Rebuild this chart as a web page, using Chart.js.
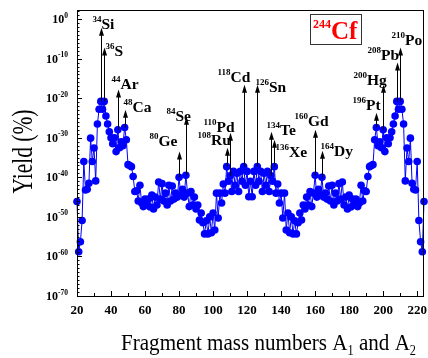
<!DOCTYPE html>
<html>
<head>
<meta charset="utf-8">
<script src="https://cdn.jsdelivr.net/npm/chart.js@4.4.1/dist/chart.umd.min.js"></script>
<style>
  html, body { margin: 0; padding: 0; background: #fff; }
  #wrap { width: 428px; height: 358px; }
</style>
</head>
<body>
<div id="wrap"><canvas id="chart" width="428" height="358"></canvas></div>
<script>
// mass number of the first point, one point for every A after it
var firstMass = 20;

// log10 of the yield (%) for A = 20 ... 224
var yieldExp = [
  -46.1, -58.8, -56.3, -50.9, -36.0, -43.2, -43.0, -41.5, -30.1, -36.0,   // 20-29
  -32.6, -40.9, -26.5, -22.8, -20.8, -22.8, -20.8, -24.5, -26.5, -28.5,   // 30-39
  -30.0, -31.5, -30.0, -33.5, -28.0, -32.5, -31.0, -32.0, -27.4, -30.5,   // 40-49
  -36.8, -37.0, -37.3, -39.8, -43.6, -43.4, -46.0, -42.0, -46.5, -47.4,   // 50-59
  -45.5, -47.0, -45.5, -47.5, -44.5, -48.0, -45.0, -47.0, -41.2, -45.5,   // 60-69
  -41.6, -46.0, -44.0, -47.0, -42.0, -46.0, -42.2, -45.5, -44.0, -45.0,   // 70-79
  -40.0, -44.5, -43.0, -45.0, -39.5, -44.0, -47.4, -43.6, -47.0, -45.0,   // 80-89
  -48.0, -47.0, -50.8, -49.0, -51.5, -54.3, -51.0, -54.3, -50.0, -54.0,   // 90-99
  -49.0, -53.3, -44.0, -50.3, -44.0, -46.5, -41.7, -44.0, -37.3, -41.0,   // 100-109
  -39.6, -43.6, -38.5, -42.0, -39.0, -43.6, -38.5, -41.0, -37.3, -42.0,   // 110-119
  -38.5, -44.9, -41.0, -44.9, -38.5, -42.0, -37.3, -41.0, -38.5, -43.6,   // 120-129
  -39.0, -42.0, -38.5, -43.6, -39.6, -41.0, -37.3, -44.0, -41.7, -46.5,   // 130-139
  -44.0, -50.3, -44.0, -53.3, -49.0, -54.0, -50.0, -54.3, -51.0, -54.3,   // 140-149
  -51.5, -49.0, -50.8, -47.0, -48.0, -45.0, -47.0, -43.6, -47.4, -44.0,   // 150-159
  -39.5, -45.0, -43.0, -44.5, -40.0, -45.0, -44.0, -45.5, -42.2, -46.0,   // 160-169
  -42.0, -47.0, -44.0, -46.0, -41.6, -45.5, -41.2, -47.0, -45.0, -48.0,   // 170-179
  -44.5, -47.5, -45.5, -47.0, -45.5, -47.4, -46.5, -42.0, -46.0, -43.4,   // 180-189
  -43.6, -39.8, -37.3, -37.0, -36.8, -30.5, -27.4, -32.0, -31.0, -32.5,   // 190-199
  -28.0, -33.5, -30.0, -31.5, -30.0, -28.5, -26.5, -24.5, -20.8, -22.8,   // 200-209
  -20.8, -22.8, -26.5, -40.9, -32.6, -36.0, -30.1, -41.5, -43.0, -43.2,   // 210-219
  -36.0, -50.9, -56.3, -58.8, -46.1                                       // 220-224
];

var xTicks = [20, 40, 60, 80, 100, 120, 140, 160, 180, 200, 220];
var yTickExp = [0, -10, -20, -30, -40, -50, -60, -70];

// marked fragments
var fragMass   = [34, 36, 44, 48, 80, 84, 108, 110, 118, 126, 134, 136, 160, 164, 196, 200, 208, 210];
var fragSymbol = ['Si', 'S', 'Ar', 'Ca', 'Ge', 'Se', 'Ru', 'Pd', 'Cd', 'Sn', 'Te', 'Xe', 'Gd', 'Dy', 'Pt', 'Hg', 'Pb', 'Po'];
// log10 of the height each arrow reaches
var arrowTopExp = [-2.2, -7.2, -17.8, -22.9, -33.5, -24.7, -32.5, -28.7, -16.6, -16.6, -28.5, -30.5, -28.0, -33.3, -23.7, -16.6, -11.0, -7.2];

// label placement relative to the arrow tip (px): left edge, baseline
var labelOffset = [
  [-9, 1.5], [1, 8], [-7, -1], [-2, 2], [-30, -6], [-20, 4],
  [-30, -3], [-27, -1], [-27, -3], [-2, 7], [-5, 3], [1, 17],
  [-21, -4], [-2, 5], [-24, -3], [-30, 0], [-30, -3], [-9, -3]
];

var serif = '"Liberation Serif", "Times New Roman", serif';

var points = yieldExp.map(function(e, i) {
  return { x: firstMass + i, y: Math.pow(10, e) };
});

function supText(ctx, left, base, sup, main, supSize, mainSize, raise) {
  ctx.textAlign = 'left';
  ctx.textBaseline = 'alphabetic';
  ctx.font = 'bold ' + supSize + 'px ' + serif;
  ctx.fillText(sup, left, base - raise);
  var w = ctx.measureText(sup).width;
  ctx.font = 'bold ' + mainSize + 'px ' + serif;
  ctx.fillText(main, left + w, base);
}

var decorations = {
  id: 'decorations',
  afterDatasetsDraw: function(chart) {
    var ctx = chart.ctx;
    var x = chart.scales.x, y = chart.scales.y;

    // arrows with element labels
    ctx.save();
    ctx.strokeStyle = '#000';
    ctx.fillStyle = '#000';
    ctx.lineWidth = 1;
    fragMass.forEach(function(m, i) {
      var px = Math.round(x.getPixelForValue(m)) + 0.5;
      var py0 = y.getPixelForValue(points[m - firstMass].y);
      var py1 = y.getPixelForValue(Math.pow(10, arrowTopExp[i]));
      ctx.beginPath();
      ctx.moveTo(px, py0);
      ctx.lineTo(px, py1 + 6);
      ctx.stroke();
      ctx.beginPath();
      ctx.moveTo(px, py1);
      ctx.lineTo(px - 2.5, py1 + 8);
      ctx.lineTo(px + 2.5, py1 + 8);
      ctx.closePath();
      ctx.fill();
      supText(ctx, px + labelOffset[i][0], py1 + labelOffset[i][1], String(m), fragSymbol[i], 9, 15.5, 7);
    });
    ctx.restore();
  },
  afterDraw: function(chart) {
    var ctx = chart.ctx;
    var a = chart.chartArea;
    var x = chart.scales.x, y = chart.scales.y;
    ctx.save();

    // frame
    ctx.strokeStyle = '#000';
    ctx.lineWidth = 1;
    ctx.strokeRect(Math.round(a.left) + 0.5, Math.round(a.top) + 0.5,
                   Math.round(a.right - a.left) - 1, Math.round(a.bottom - a.top));

    // y ticks: major every 10 decades, minor every decade
    ctx.beginPath();
    for (var e = -70; e <= 2; e++) {
      var ty = Math.round(y.getPixelForValue(Math.pow(10, e))) + 0.5;
      var len = (e % 10 === 0) ? 5 : 2.5;
      ctx.moveTo(a.left, ty);
      ctx.lineTo(a.left + len, ty);
    }
    // x ticks
    for (var v = 20; v <= 220; v += 10) {
      var tx = Math.round(x.getPixelForValue(v)) + 0.5;
      var l2 = (v % 20 === 0) ? 5 : 3;
      ctx.moveTo(tx, a.bottom);
      ctx.lineTo(tx, a.bottom - l2);
    }
    ctx.stroke();

    ctx.fillStyle = '#000';
    // y tick labels
    yTickExp.forEach(function(e) {
      var ty = y.getPixelForValue(Math.pow(10, e));
      ctx.font = 'bold 12px ' + serif;
      var w1 = ctx.measureText('10').width;
      ctx.font = 'bold 7.5px ' + serif;
      var w2 = ctx.measureText(String(e)).width;
      var left = 68 - w1 - w2;
      supText(ctx, left, ty + 4, '10', '', 12, 12, 0);
      ctx.font = 'bold 7.5px ' + serif;
      ctx.fillText(String(e), left + w1, ty - 1.5);
    });

    // x tick labels
    ctx.font = 'bold 13px ' + serif;
    ctx.textAlign = 'center';
    ctx.textBaseline = 'alphabetic';
    xTicks.forEach(function(v) {
      ctx.fillText(String(v), x.getPixelForValue(v), 314);
    });

    // x title with subscripts
    var parts = [['Fragment mass numbers A', false], ['1', true], [' and A', false], ['2', true]];
    var total = 0;
    parts.forEach(function(p) {
      ctx.font = (p[1] ? '14px ' : '24px ') + serif;
      total += ctx.measureText(p[0]).width;
    });
    ctx.save();
    ctx.translate(121, 350);
    ctx.scale(295 / total, 1);
    ctx.textAlign = 'left';
    var cx = 0;
    parts.forEach(function(p) {
      ctx.font = (p[1] ? '14px ' : '24px ') + serif;
      ctx.fillText(p[0], cx, p[1] ? 5 : 0);
      cx += ctx.measureText(p[0]).width;
    });
    ctx.restore();

    // y title
    ctx.save();
    ctx.translate(32, 151.5);
    ctx.rotate(-Math.PI / 2);
    ctx.font = '29px ' + serif;
    var tw = ctx.measureText('Yield (%)').width;
    ctx.scale(84 / tw, 1);
    ctx.textAlign = 'center';
    ctx.fillText('Yield (%)', 0, 0);
    ctx.restore();

    // nucleus box
    ctx.strokeStyle = '#333';
    ctx.strokeRect(310.5, 14.5, 51, 30);
    ctx.fillStyle = '#ff0000';
    supText(ctx, 313, 39, '244', 'Cf', 12, 25, 11);

    ctx.restore();
  }
};

new Chart(document.getElementById('chart'), {
  type: 'line',
  data: {
    datasets: [{
      data: points,
      borderColor: '#0000ff',
      borderWidth: 1,
      backgroundColor: '#0000ff',
      pointBackgroundColor: '#0000ff',
      pointBorderColor: '#0000ff',
      pointBorderWidth: 0,
      pointRadius: 3.8,
      tension: 0,
      clip: false
    }]
  },
  options: {
    responsive: false,
    animation: false,
    layout: { padding: { left: 77, right: 1, top: 10, bottom: 62 } },
    plugins: { legend: { display: false }, tooltip: { enabled: false } },
    scales: {
      x: {
        type: 'linear',
        min: 20,
        max: 224,
        afterBuildTicks: function(s) { s.ticks = xTicks.map(function(v) { return { value: v }; }); },
        ticks: { display: false },
        grid: { display: false, drawTicks: false },
        border: { display: false }
      },
      y: {
        type: 'logarithmic',
        min: 1e-70,
        max: Math.pow(10, 2.3),
        afterBuildTicks: function(s) { s.ticks = yTickExp.map(function(e) { return { value: Math.pow(10, e) }; }); },
        ticks: { display: false },
        grid: { display: false, drawTicks: false },
        border: { display: false }
      }
    }
  },
  plugins: [decorations]
});
</script>
</body>
</html>
